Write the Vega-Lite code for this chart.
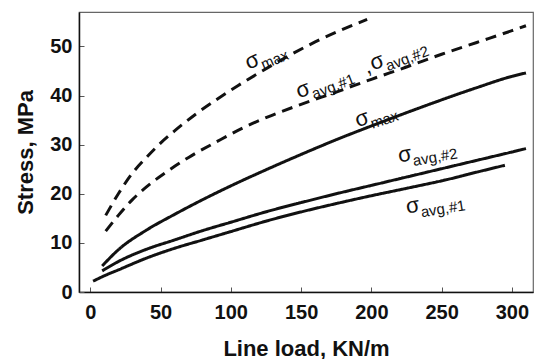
{
  "$schema": "https://vega.github.io/schema/vega-lite/v6.json",
  "width": 454,
  "height": 280,
  "autosize": "none",
  "padding": {"left": 79, "top": 12, "right": 5, "bottom": 67},
  "background": "white",
  "config": {
    "view": {"stroke": "#666", "strokeWidth": 1.2},
    "font": "Liberation Sans",
    "axis": {
      "grid": false,
      "domainColor": "#111",
      "domainWidth": 1.5,
      "tickColor": "#555",
      "tickSize": -5,
      "labelFont": "Liberation Sans",
      "labelFontWeight": "bold",
      "labelFontSize": 20,
      "labelColor": "#111",
      "titleFont": "Liberation Sans",
      "titleFontWeight": "bold",
      "titleFontSize": 22,
      "titleColor": "#111"
    }
  },
  "datasets": {
    "curves": [
      {"series": "A-max", "case": "A", "x": 11, "y": 15.6},
      {"series": "A-max", "case": "A", "x": 20, "y": 20.0},
      {"series": "A-max", "case": "A", "x": 30, "y": 24.2},
      {"series": "A-max", "case": "A", "x": 40, "y": 27.4},
      {"series": "A-max", "case": "A", "x": 50, "y": 30.3},
      {"series": "A-max", "case": "A", "x": 60, "y": 32.8},
      {"series": "A-max", "case": "A", "x": 75, "y": 36.2},
      {"series": "A-max", "case": "A", "x": 90, "y": 39.2},
      {"series": "A-max", "case": "A", "x": 105, "y": 42.0},
      {"series": "A-max", "case": "A", "x": 120, "y": 44.6},
      {"series": "A-max", "case": "A", "x": 140, "y": 47.9},
      {"series": "A-max", "case": "A", "x": 160, "y": 50.9},
      {"series": "A-max", "case": "A", "x": 180, "y": 53.5},
      {"series": "A-max", "case": "A", "x": 197, "y": 55.5},
      {"series": "A-avg", "case": "A", "x": 11, "y": 12.4},
      {"series": "A-avg", "case": "A", "x": 20, "y": 15.6},
      {"series": "A-avg", "case": "A", "x": 30, "y": 18.8},
      {"series": "A-avg", "case": "A", "x": 40, "y": 21.4},
      {"series": "A-avg", "case": "A", "x": 55, "y": 24.6},
      {"series": "A-avg", "case": "A", "x": 70, "y": 27.4},
      {"series": "A-avg", "case": "A", "x": 90, "y": 30.6},
      {"series": "A-avg", "case": "A", "x": 110, "y": 33.6},
      {"series": "A-avg", "case": "A", "x": 126, "y": 35.6},
      {"series": "A-avg", "case": "A", "x": 150, "y": 38.2},
      {"series": "A-avg", "case": "A", "x": 175, "y": 40.7},
      {"series": "A-avg", "case": "A", "x": 200, "y": 43.3},
      {"series": "A-avg", "case": "A", "x": 225, "y": 45.8},
      {"series": "A-avg", "case": "A", "x": 250, "y": 48.4},
      {"series": "A-avg", "case": "A", "x": 275, "y": 50.8},
      {"series": "A-avg", "case": "A", "x": 300, "y": 53.2},
      {"series": "A-avg", "case": "A", "x": 310, "y": 54.2},
      {"series": "B-max", "case": "B", "x": 8.5, "y": 5.3},
      {"series": "B-max", "case": "B", "x": 20, "y": 8.6},
      {"series": "B-max", "case": "B", "x": 40, "y": 12.6},
      {"series": "B-max", "case": "B", "x": 60, "y": 15.8},
      {"series": "B-max", "case": "B", "x": 80, "y": 18.8},
      {"series": "B-max", "case": "B", "x": 100, "y": 21.6},
      {"series": "B-max", "case": "B", "x": 126, "y": 25.0},
      {"series": "B-max", "case": "B", "x": 150, "y": 28.0},
      {"series": "B-max", "case": "B", "x": 175, "y": 31.0},
      {"series": "B-max", "case": "B", "x": 200, "y": 33.8},
      {"series": "B-max", "case": "B", "x": 225, "y": 36.5},
      {"series": "B-max", "case": "B", "x": 245, "y": 38.6},
      {"series": "B-max", "case": "B", "x": 275, "y": 41.6},
      {"series": "B-max", "case": "B", "x": 300, "y": 43.9},
      {"series": "B-max", "case": "B", "x": 310, "y": 44.6},
      {"series": "B-avg2", "case": "B", "x": 8.5, "y": 4.3},
      {"series": "B-avg2", "case": "B", "x": 20, "y": 6.2},
      {"series": "B-avg2", "case": "B", "x": 40, "y": 8.7},
      {"series": "B-avg2", "case": "B", "x": 60, "y": 10.6},
      {"series": "B-avg2", "case": "B", "x": 80, "y": 12.5},
      {"series": "B-avg2", "case": "B", "x": 100, "y": 14.2},
      {"series": "B-avg2", "case": "B", "x": 126, "y": 16.4},
      {"series": "B-avg2", "case": "B", "x": 150, "y": 18.2},
      {"series": "B-avg2", "case": "B", "x": 175, "y": 20.0},
      {"series": "B-avg2", "case": "B", "x": 200, "y": 21.7},
      {"series": "B-avg2", "case": "B", "x": 225, "y": 23.4},
      {"series": "B-avg2", "case": "B", "x": 250, "y": 25.1},
      {"series": "B-avg2", "case": "B", "x": 275, "y": 26.8},
      {"series": "B-avg2", "case": "B", "x": 300, "y": 28.5},
      {"series": "B-avg2", "case": "B", "x": 310, "y": 29.2},
      {"series": "B-avg1", "case": "B", "x": 2, "y": 2.2},
      {"series": "B-avg1", "case": "B", "x": 10, "y": 3.3},
      {"series": "B-avg1", "case": "B", "x": 20, "y": 4.5},
      {"series": "B-avg1", "case": "B", "x": 40, "y": 6.9},
      {"series": "B-avg1", "case": "B", "x": 60, "y": 8.9},
      {"series": "B-avg1", "case": "B", "x": 80, "y": 10.6},
      {"series": "B-avg1", "case": "B", "x": 100, "y": 12.3},
      {"series": "B-avg1", "case": "B", "x": 126, "y": 14.5},
      {"series": "B-avg1", "case": "B", "x": 150, "y": 16.3},
      {"series": "B-avg1", "case": "B", "x": 175, "y": 18.0},
      {"series": "B-avg1", "case": "B", "x": 200, "y": 19.6},
      {"series": "B-avg1", "case": "B", "x": 225, "y": 21.1},
      {"series": "B-avg1", "case": "B", "x": 254, "y": 22.9},
      {"series": "B-avg1", "case": "B", "x": 275, "y": 24.4},
      {"series": "B-avg1", "case": "B", "x": 295, "y": 25.8}
    ],
    "labels": [
      {"lbl": "L1", "x": 115.1, "y": 47.1, "main": "σ", "sub": "max"},
      {"lbl": "L2", "x": 151.3, "y": 41.2, "main": "σ", "sub": "avg,#1"},
      {"lbl": "L2", "x": 197.0, "y": 45.9, "main": ",", "sub": ""},
      {"lbl": "L2", "x": 203.8, "y": 46.9, "main": "σ", "sub": "avg,#2"},
      {"lbl": "L3", "x": 193.2, "y": 35.3, "main": "σ", "sub": "max"},
      {"lbl": "L4", "x": 223.7, "y": 28.0, "main": "σ", "sub": "avg,#2"},
      {"lbl": "L5", "x": 229.4, "y": 17.6, "main": "σ", "sub": "avg,#1"}
    ]
  },
  "encoding": {
    "x": {
      "field": "x",
      "type": "quantitative",
      "scale": {"domain": [-8, 315], "nice": false, "zero": false},
      "axis": {"values": [0, 50, 100, 150, 200, 250, 300], "title": "Line load, KN/m", "labelPadding": 15, "titlePadding": 16}
    },
    "y": {
      "field": "y",
      "type": "quantitative",
      "scale": {"domain": [0, 57], "nice": false, "zero": false},
      "axis": {"values": [0, 10, 20, 30, 40, 50], "title": "Stress, MPa", "labelPadding": 12, "titlePadding": 12}
    }
  },
  "layer": [
    {
      "data": {"name": "curves"},
      "mark": {"type": "line", "color": "#111", "strokeWidth": 3, "interpolate": "monotone", "clip": true},
      "encoding": {
        "detail": {"field": "series"},
        "strokeDash": {"field": "case", "type": "nominal", "scale": {"domain": ["A", "B"], "range": [[11, 7], [1, 0]]}, "legend": null}
      }
    },
    {"data": {"name": "labels"}, "transform": [{"filter": "datum.lbl === 'L1'"}],
     "mark": {"type": "text", "angle": 337, "align": "center", "baseline": "middle", "fontSize": 22, "color": "#111"},
     "encoding": {"text": {"field": "main"}}},
    {"data": {"name": "labels"}, "transform": [{"filter": "datum.lbl === 'L1'"}],
     "mark": {"type": "text", "angle": 337, "align": "left", "baseline": "middle", "fontSize": 15, "dx": 7, "dy": 8, "color": "#111"},
     "encoding": {"text": {"field": "sub"}}},
    {"data": {"name": "labels"}, "transform": [{"filter": "datum.lbl === 'L2'"}],
     "mark": {"type": "text", "angle": 339, "align": "center", "baseline": "middle", "fontSize": 22, "color": "#111"},
     "encoding": {"text": {"field": "main"}}},
    {"data": {"name": "labels"}, "transform": [{"filter": "datum.lbl === 'L2'"}],
     "mark": {"type": "text", "angle": 339, "align": "left", "baseline": "middle", "fontSize": 15, "dx": 7, "dy": 8, "color": "#111"},
     "encoding": {"text": {"field": "sub"}}},
    {"data": {"name": "labels"}, "transform": [{"filter": "datum.lbl === 'L3'"}],
     "mark": {"type": "text", "angle": 342, "align": "center", "baseline": "middle", "fontSize": 22, "color": "#111"},
     "encoding": {"text": {"field": "main"}}},
    {"data": {"name": "labels"}, "transform": [{"filter": "datum.lbl === 'L3'"}],
     "mark": {"type": "text", "angle": 342, "align": "left", "baseline": "middle", "fontSize": 15, "dx": 7, "dy": 8, "color": "#111"},
     "encoding": {"text": {"field": "sub"}}},
    {"data": {"name": "labels"}, "transform": [{"filter": "datum.lbl === 'L4'"}],
     "mark": {"type": "text", "angle": 350, "align": "center", "baseline": "middle", "fontSize": 22, "color": "#111"},
     "encoding": {"text": {"field": "main"}}},
    {"data": {"name": "labels"}, "transform": [{"filter": "datum.lbl === 'L4'"}],
     "mark": {"type": "text", "angle": 350, "align": "left", "baseline": "middle", "fontSize": 15, "dx": 7, "dy": 8, "color": "#111"},
     "encoding": {"text": {"field": "sub"}}},
    {"data": {"name": "labels"}, "transform": [{"filter": "datum.lbl === 'L5'"}],
     "mark": {"type": "text", "angle": 351, "align": "center", "baseline": "middle", "fontSize": 22, "color": "#111"},
     "encoding": {"text": {"field": "main"}}},
    {"data": {"name": "labels"}, "transform": [{"filter": "datum.lbl === 'L5'"}],
     "mark": {"type": "text", "angle": 351, "align": "left", "baseline": "middle", "fontSize": 15, "dx": 7, "dy": 8, "color": "#111"},
     "encoding": {"text": {"field": "sub"}}}
  ]
}
